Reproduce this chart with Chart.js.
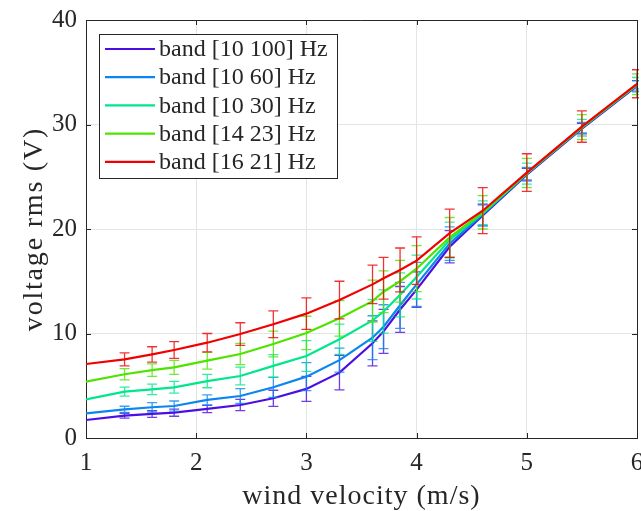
<!DOCTYPE html>
<html>
<head>
<meta charset="utf-8">
<script src="https://cdn.jsdelivr.net/npm/chart.js@4/dist/chart.umd.min.js"></script>
<style>
  html, body { margin: 0; padding: 0; background: #ffffff; }
  #wrap { width: 641px; height: 511px; }
</style>
</head>
<body>
<div id="wrap"><canvas id="c" width="641" height="511"></canvas></div>
<script>
// wind velocity (m/s)
const windVelocity = [1, 1.35, 1.6, 1.8, 2.1, 2.4, 2.7, 3.0, 3.3, 3.6, 3.7, 3.85, 4.0, 4.3, 4.6, 5.0, 5.5, 6.0];
const seriesLabels = ['band [10 100] Hz', 'band [10 60] Hz', 'band [10 30] Hz', 'band [14 23] Hz', 'band [16 21] Hz'];
const xAxisTitle = 'wind velocity (m/s)';
const yAxisTitle = 'voltage rms (V)';

const band10_100 = [1.72, 2.14, 2.30, 2.42, 2.78, 3.16, 3.80, 4.70, 6.25, 9.06, 10.2, 12.3, 14.2, 18.3, 21.3, 25.2, 29.6, 33.7];
const band10_60  = [2.36, 2.74, 2.94, 3.06, 3.64, 4.02, 4.85, 5.87, 7.45, 9.6, 10.65, 12.7, 14.7, 18.6, 21.4, 25.3, 29.7, 33.8];
const band10_30  = [3.70, 4.43, 4.66, 4.85, 5.45, 5.93, 6.90, 7.85, 9.45, 11.25, 12.1, 13.7, 15.4, 18.95, 21.5, 25.3, 29.7, 33.8];
const band14_23  = [5.40, 6.10, 6.50, 6.76, 7.40, 8.04, 9.00, 10.05, 11.45, 13.1, 14.0, 15.0, 16.2, 19.2, 21.6, 25.35, 29.75, 33.85];
const band16_21  = [7.08, 7.53, 8.00, 8.42, 9.12, 9.95, 10.88, 11.9, 13.2, 14.7, 15.28, 16.08, 16.97, 19.6, 21.75, 25.4, 29.8, 33.9];

// half-length of the error bars (first point has none)
const err10_100 = [null, 0.23, 0.32, 0.34, 0.35, 0.54, 0.77, 1.2, 1.65, 2.15, 2.1, 2.2, 1.7, 1.55, 1.0, 0.6, 0.5, 0.5];
const err10_60  = [null, 0.30, 0.45, 0.48, 0.48, 0.70, 0.96, 1.34, 1.15, 2.1, 2.1, 2.2, 2.1, 1.6, 1.0, 0.6, 0.5, 0.4];
const err10_30  = [null, 0.43, 0.50, 0.56, 0.64, 0.85, 1.07, 1.47, 1.45, 2.0, 2.07, 2.1, 2.1, 1.7, 1.2, 1.0, 0.8, 0.7];
const err14_23  = [null, 0.53, 0.60, 0.67, 0.80, 1.02, 1.23, 1.60, 1.70, 2.0, 2.0, 2.0, 2.2, 1.9, 1.6, 1.4, 1.2, 1.0];
const err16_21  = [null, 0.62, 0.73, 0.80, 0.88, 1.08, 1.28, 1.51, 1.80, 1.85, 2.0, 2.1, 2.27, 2.31, 2.2, 1.8, 1.5, 1.34];

const xTicks = [1, 2, 3, 4, 5, 6];
const yTicks = [0, 10, 20, 30, 40];

const seriesColors = ['#4b0fe3', '#0a86ee', '#00e68c', '#4fe300', '#f00000'];
const seriesValues = [band10_100, band10_60, band10_30, band14_23, band16_21];
const seriesErrors = [err10_100, err10_60, err10_30, err14_23, err16_21];

const AXIS = '#262626';
const FONT = '"Liberation Serif", "Times New Roman", serif';

function hexToRgba(hex, a) {
  const n = parseInt(hex.slice(1), 16);
  return `rgba(${(n >> 16) & 255},${(n >> 8) & 255},${n & 255},${a})`;
}

const datasets = seriesLabels.map((lab, i) => ({
  label: lab,
  data: windVelocity.map((x, k) => ({ x: x, y: seriesValues[i][k] })),
  errors: seriesErrors[i],
  borderColor: seriesColors[i],
  backgroundColor: seriesColors[i],
  borderWidth: 2.2,
  pointRadius: 0,
  tension: 0,
  fill: false,
  order: 5 - i
}));

const errorBarPlugin = {
  id: 'errorBars',
  beforeDatasetDraw(chart, args) {
    const ds = chart.data.datasets[args.index];
    const xs = chart.scales.x, ys = chart.scales.y;
    const ctx = chart.ctx;
    const area = chart.chartArea;
    ctx.save();
    ctx.beginPath();
    ctx.rect(area.left, area.top - 2, area.right - area.left + 2, area.bottom - area.top + 2);
    ctx.clip();
    ctx.strokeStyle = hexToRgba(ds.borderColor, 0.8);
    ctx.lineWidth = 1.3;
    ds.data.forEach((p, k) => {
      const e = ds.errors[k];
      if (e == null) return;
      const px = xs.getPixelForValue(p.x);
      const top = ys.getPixelForValue(p.y + e);
      const bot = ys.getPixelForValue(p.y - e);
      ctx.beginPath();
      ctx.moveTo(px, top); ctx.lineTo(px, bot);
      ctx.moveTo(px - 5, top); ctx.lineTo(px + 5, top);
      ctx.moveTo(px - 5, bot); ctx.lineTo(px + 5, bot);
      ctx.stroke();
    });
    ctx.restore();
  }
};

const boxPlugin = {
  id: 'boxAndLegend',
  afterDraw(chart) {
    const ctx = chart.ctx;
    const a = chart.chartArea;
    const xs = chart.scales.x, ys = chart.scales.y;
    ctx.save();
    ctx.strokeStyle = AXIS;
    ctx.lineWidth = 1;
    ctx.beginPath();
    ctx.moveTo(a.left, a.top + 0.5); ctx.lineTo(a.right + 0.5, a.top + 0.5);
    ctx.lineTo(a.right + 0.5, a.bottom);
    ctx.stroke();
    ctx.beginPath();
    xs.ticks.forEach(t => {
      const px = Math.round(xs.getPixelForValue(t.value)) + 0.5;
      ctx.moveTo(px, a.bottom); ctx.lineTo(px, a.bottom - 5);
      ctx.moveTo(px, a.top); ctx.lineTo(px, a.top + 5);
    });
    ys.ticks.forEach(t => {
      const py = Math.round(ys.getPixelForValue(t.value)) + 0.5;
      ctx.moveTo(a.left, py); ctx.lineTo(a.left + 5, py);
      ctx.moveTo(a.right, py); ctx.lineTo(a.right - 5, py);
    });
    ctx.stroke();

    // axis titles
    ctx.fillStyle = AXIS;
    ctx.textAlign = 'center';
    ctx.textBaseline = 'middle';
    ctx.font = '28px ' + FONT;
    ctx.letterSpacing = '1px';
    ctx.fillText(xAxisTitle, (a.left + a.right) / 2, 497);
    ctx.save();
    ctx.translate(35, (a.top + a.bottom) / 2);
    ctx.rotate(-Math.PI / 2);
    ctx.letterSpacing = '1.8px';
    ctx.fillText(yAxisTitle, 0, 0);
    ctx.restore();
    ctx.letterSpacing = '0px';

    // legend
    const lx = 99.5, ly = 34.5, lw = 238, lh = 144;
    ctx.fillStyle = '#ffffff';
    ctx.fillRect(lx, ly, lw, lh);
    ctx.strokeStyle = AXIS;
    ctx.strokeRect(lx, ly, lw, lh);
    ctx.font = '24px ' + FONT;
    ctx.textBaseline = 'middle';
    ctx.textAlign = 'left';
    chart.data.datasets.forEach((ds, i) => {
      const ry = 49 + i * 28.2;
      ctx.strokeStyle = ds.borderColor;
      ctx.lineWidth = 2.2;
      ctx.beginPath();
      ctx.moveTo(105, ry); ctx.lineTo(155, ry);
      ctx.stroke();
      ctx.fillStyle = AXIS;
      ctx.fillText(ds.label, 159, ry + 1);
    });
    ctx.restore();
  }
};

new Chart(document.getElementById('c'), {
  type: 'line',
  data: { datasets },
  options: {
    responsive: false,
    animation: false,
    events: [],
    layout: { autoPadding: false, padding: { top: 20, right: 4, left: 0, bottom: 0 } },
    plugins: { legend: { display: false }, tooltip: { enabled: false } },
    scales: {
      x: {
        type: 'linear',
        min: 1, max: 6,
        afterFit(s) { s.height = 73; s.paddingLeft = 0; s.paddingRight = 0; s.paddingTop = 0; s.paddingBottom = 0; },
        afterBuildTicks(s) { s.ticks = xTicks.map(v => ({ value: v })); },
        border: { display: true, color: AXIS, width: 1 },
        grid: { color: '#e4e4e4', drawTicks: false, lineWidth: 1 },
        ticks: { color: AXIS, font: { family: FONT, size: 25 }, padding: 10, maxRotation: 0 },
        title: { display: false }
      },
      y: {
        type: 'linear',
        min: 0, max: 40,
        afterFit(s) { s.width = 86; s.paddingLeft = 0; s.paddingRight = 0; s.paddingTop = 0; s.paddingBottom = 0; },
        afterBuildTicks(s) { s.ticks = yTicks.map(v => ({ value: v })); },
        border: { display: true, color: AXIS, width: 1 },
        grid: { color: '#e4e4e4', drawTicks: false, lineWidth: 1 },
        ticks: { color: AXIS, font: { family: FONT, size: 25 }, padding: 9 },
        title: { display: false }
      }
    }
  },
  plugins: [errorBarPlugin, boxPlugin]
});
</script>
</body>
</html>
